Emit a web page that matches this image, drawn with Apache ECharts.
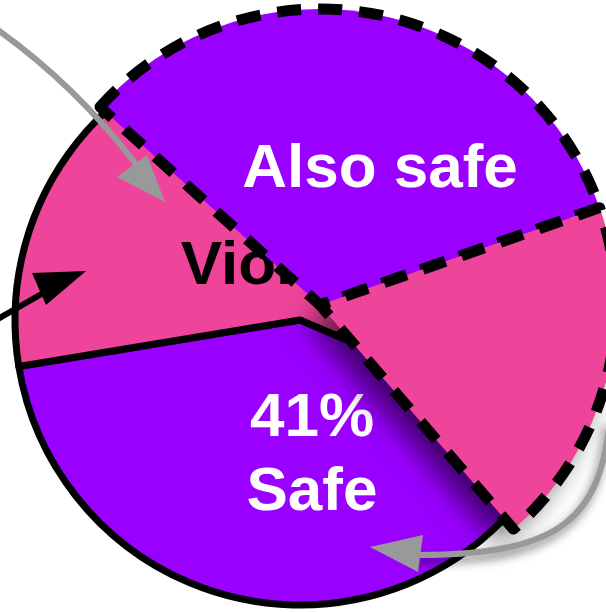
<!DOCTYPE html>
<html>
<head>
<meta charset="utf-8">
<script src="https://cdn.jsdelivr.net/npm/echarts@6/dist/echarts.min.js"></script>
<style>
  html, body { margin: 0; padding: 0; background: #ffffff; }
  #chart { width: 606px; height: 612px; }
</style>
</head>
<body>
<div id="chart"></div>
<script>
// ---- data ----
const baseCategories = ['Safe', 'Violation'];
const baseValues = [41, 59];
const overlayCategories = ['Also safe', 'Violation part', 'rest'];
const overlayValues = [33, 19, 48];

// ---- styling / layout ----
const PURPLE = '#9900FF';
const PINK = '#EE4499';
const GRAY = '#999999';
const FONT = '"Liberation Sans", Arial, sans-serif';
const CLEAR = 'rgba(0,0,0,0)';

const baseLabelPos = [[312, 456], [311, 267]];
const overlayLabelPos = [[380, 170], null, null];
const overlayCenter = [320, 305];
const overlayRadius = 296;
const overlayStart = 138;

const chart = echarts.init(document.getElementById('chart'), null, { renderer: 'canvas' });

const labelCommon = {
  show: true,
  position: 'inside',
  fontFamily: FONT,
  fontWeight: 'bold',
  fontSize: 62,
  lineHeight: 74,
  align: 'center',
  verticalAlign: 'middle'
};

const baseData = baseCategories.map((name, i) => ({
  name: name,
  value: baseValues[i],
  itemStyle: { color: i === 0 ? PURPLE : PINK },
  label: i === 0
    ? Object.assign({}, labelCommon, { color: '#ffffff', formatter: '{c}%\n{b}' })
    : Object.assign({}, labelCommon, { color: '#000000', formatter: '{b}' })
}));

// shadow layer: only the pink overlay slice casts a shadow
const shadowData = overlayCategories.map((name, i) => ({
  name: name,
  value: overlayValues[i],
  itemStyle: i === 1
    ? { color: PINK, borderWidth: 0, shadowBlur: 28, shadowOffsetX: -14, shadowOffsetY: 14, shadowColor: 'rgba(0,0,0,0.6)' }
    : { color: CLEAR, borderWidth: 0 },
  label: { show: false }
}));

const overlayData = overlayCategories.map((name, i) => {
  if (i === 2) {
    return {
      name: name, value: overlayValues[i],
      itemStyle: { color: CLEAR, borderWidth: 0 },
      label: { show: false }
    };
  }
  return {
    name: name,
    value: overlayValues[i],
    itemStyle: i === 0
      ? { color: PURPLE, borderDashOffset: 0 }
      : { color: PINK, borderDashOffset: 20.8 },
    label: i === 0
      ? Object.assign({}, labelCommon, { color: '#ffffff', formatter: '{b}' })
      : { show: false }
  };
});

const pieCommon = {
  type: 'pie',
  silent: true,
  clockwise: true,
  avoidLabelOverlap: false,
  labelLine: { show: false },
  emphasis: { disabled: true }
};

const option = {
  animation: false,
  backgroundColor: '#ffffff',
  series: [
    Object.assign({}, pieCommon, {
      z: 2,
      center: [300, 320],
      radius: 285,
      startAngle: -23,
      itemStyle: { borderColor: '#000000', borderWidth: 7, borderType: 'solid' },
      labelLayout: function (p) {
        const pos = baseLabelPos[p.dataIndex];
        return pos ? { x: pos[0], y: pos[1] } : {};
      },
      data: baseData
    }),
    Object.assign({}, pieCommon, {
      z: 3,
      center: overlayCenter,
      radius: overlayRadius,
      startAngle: overlayStart,
      label: { show: false },
      data: shadowData
    }),
    Object.assign({}, pieCommon, {
      z: 4,
      center: overlayCenter,
      radius: overlayRadius,
      startAngle: overlayStart,
      itemStyle: { borderColor: '#000000', borderWidth: 11, borderType: [24, 17] },
      labelLayout: function (p) {
        const pos = overlayLabelPos[p.dataIndex];
        return pos ? { x: pos[0], y: pos[1] } : {};
      },
      data: overlayData
    })
  ],
  graphic: [
    // gray arrow, top-left
    {
      type: 'bezierCurve', z: 20, silent: true,
      shape: { x1: -2, y1: 30, cpx1: 75, cpy1: 85, x2: 136, y2: 164 },
      style: { stroke: GRAY, lineWidth: 6, fill: null }
    },
    {
      type: 'polygon', z: 20, silent: true,
      shape: { points: [[165, 202], [117, 177], [147, 155]] },
      style: { fill: GRAY }
    },
    // black arrow, left
    {
      type: 'line', z: 20, silent: true,
      shape: { x1: -4, y1: 320, x2: 52, y2: 288 },
      style: { stroke: '#000000', lineWidth: 6 }
    },
    {
      type: 'polygon', z: 20, silent: true,
      shape: { points: [[86, 271], [32, 273], [46, 305]] },
      style: { fill: '#000000' }
    },
    // gray arrow, bottom-right
    {
      type: 'bezierCurve', z: 20, silent: true,
      shape: { x1: 610, y1: 420, cpx1: 600, cpy1: 515, cpx2: 565, cpy2: 555, x2: 418, y2: 555 },
      style: { stroke: GRAY, lineWidth: 6, fill: null, shadowBlur: 10, shadowOffsetX: -3, shadowOffsetY: 6, shadowColor: 'rgba(0,0,0,0.5)' }
    },
    {
      type: 'polygon', z: 20, silent: true,
      shape: { points: [[370, 547], [423, 535], [418, 572]] },
      style: { fill: GRAY }
    }
  ]
};

chart.setOption(option);
</script>
</body>
</html>
